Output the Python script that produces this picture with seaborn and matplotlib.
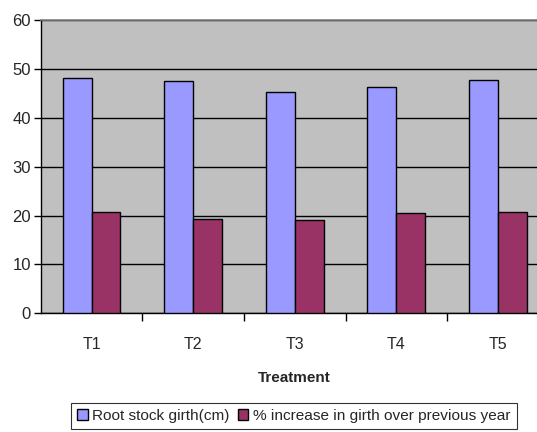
import matplotlib
matplotlib.use("Agg")
import matplotlib.pyplot as plt
import seaborn as sns
import pandas as pd

treatments = ["T1", "T2", "T3", "T4", "T5"]
girth = [48.1, 47.5, 45.3, 46.2, 47.8]
pct_increase = [20.8, 19.3, 19.0, 20.5, 20.8]
series_names = ["Root stock girth(cm)", "% increase in girth over previous year"]
colors = ["#9999FF", "#993366"]
yticks = [0, 10, 20, 30, 40, 50, 60]

df = pd.DataFrame({
    "Treatment": treatments * 2,
    "value": girth + pct_increase,
    "series": [series_names[0]] * len(treatments) + [series_names[1]] * len(treatments),
})

sns.set_style("white")
plt.rcParams["font.family"] = ["Liberation Sans", "DejaVu Sans"]

fig = plt.figure(figsize=(5.37, 4.32), dpi=100)
ax = fig.add_axes([0.0758, 0.2748, 1.0218 - 0.0758, 0.9537 - 0.2748])
ax.set_facecolor("#C0C0C0")

sns.barplot(data=df, x="Treatment", y="value", hue="series", palette=colors,
            width=0.57, gap=0, edgecolor="black", linewidth=1.0,
            saturation=1, ax=ax, zorder=3)

ax.set_ylim(0, 60)
ax.set_xlim(-0.5, 4.5)
ax.set_yticks(yticks)
ax.yaxis.grid(True, color="black", linewidth=1.0, zorder=0)
ax.set_axisbelow(True)
ax.tick_params(axis="y", which="major", direction="out", length=5, width=1,
               color="black", labelsize=12, pad=2, left=True)
ax.tick_params(axis="x", which="major", length=0, labelsize=11.5, pad=17)
ax.set_xticks([i + 0.5 for i in range(len(treatments) - 1)], minor=True)
ax.tick_params(axis="x", which="minor", direction="out", length=6, width=1,
               color="black", bottom=True)
ax.set_ylabel("")
ax.set_xlabel("Treatment", fontsize=11, fontweight="bold", labelpad=14)

for side in ["top", "right"]:
    ax.spines[side].set_color("#808080")
    ax.spines[side].set_linewidth(1.2)
for side in ["left", "bottom"]:
    ax.spines[side].set_color("black")
    ax.spines[side].set_linewidth(1.0)

handles, labels = ax.get_legend_handles_labels()
ax.get_legend().remove()
leg = fig.legend(handles, labels, loc="upper center", bbox_to_anchor=(0.547, 0.067),
                 ncol=2, frameon=True, fancybox=False, edgecolor="black",
                 fontsize=11.1, handlelength=0.7, handleheight=0.7,
                 handletextpad=0.3, columnspacing=0.5, borderpad=0.4,
                 borderaxespad=0)
leg.get_frame().set_linewidth(0.8)

fig.savefig("out.png", dpi=100)
